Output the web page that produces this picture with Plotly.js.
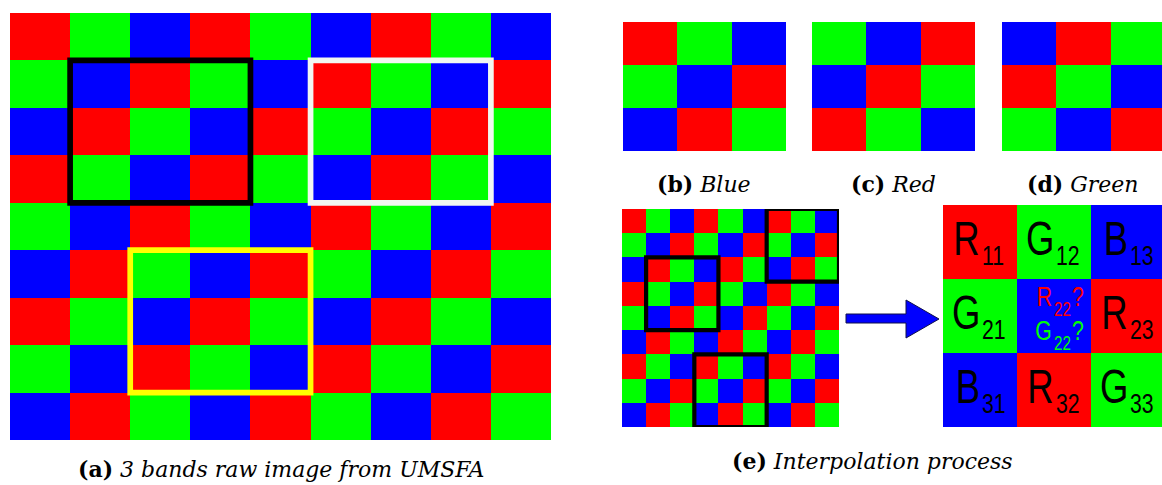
<!DOCTYPE html>
<html>
<head>
<meta charset="utf-8">
<script src="https://cdn.plot.ly/plotly-3.0.1.min.js"></script>
<style>
  html, body { margin: 0; padding: 0; background: #ffffff; }
  #fig { width: 1162px; height: 485px; }
</style>
</head>
<body>
<div id="fig"></div>
<script>
// ---- Filter layouts (one letter per sensor cell, row by row from the top) ----
const rawMosaic = [
  ['R','G','B','R','G','B','R','G','B'],
  ['G','B','R','G','B','R','G','B','R'],
  ['B','R','G','B','R','G','B','R','G'],
  ['R','G','B','R','G','B','R','G','B'],
  ['G','B','R','G','B','R','G','B','R'],
  ['B','R','G','B','R','G','B','R','G'],
  ['R','G','B','R','G','B','R','G','B'],
  ['G','B','R','G','B','R','G','B','R'],
  ['B','R','G','B','R','G','B','R','G']
];
const blueCentred  = [['R','G','B'], ['G','B','R'], ['B','R','G']];
const redCentred   = [['G','B','R'], ['B','R','G'], ['R','G','B']];
const greenCentred = [['B','R','G'], ['R','G','B'], ['G','B','R']];
const interpBlock  = [['R','G','B'], ['G','B','R'], ['B','R','G']];

// Cell labels of the interpolation block: band letter + pixel index
const labelLetters = [['R','G','B'], ['G','','R'], ['B','R','G']];
const labelIndices = [['11','12','13'], ['21','','23'], ['31','32','33']];
// Unknown values at the centre pixel
const unknownLetters = ['R', 'G'];
const unknownIndex = '22';
const unknownColors = ['#ff0000', '#00ff00'];

// 3x3 windows: [first column, first row, colour]
const rawWindows = [[1, 1, '#000000'], [5, 1, '#f2f7f2'], [2, 5, '#ffff00']];
const interpWindows = [[6, 0, '#000000'], [1, 2, '#000000'], [3, 6, '#000000']];

const captions = [
  '<b>(a)</b> <i>3 bands raw image from UMSFA</i>',
  '<b>(b)</b> <i>Blue</i>',
  '<b>(c)</b> <i>Red</i>',
  '<b>(d)</b> <i>Green</i>',
  '<b>(e)</b> <i>Interpolation process</i>'
];

// ---- Page geometry (pixels) ----
const W = 1162, H = 485;
const px = v => v / W;
const py = v => 1 - v / H;

const bandIndex = { R: 0, G: 1, B: 2 };
const bandScale = [
  [0, '#ff0000'], [1/3, '#ff0000'],
  [1/3, '#00ff00'], [2/3, '#00ff00'],
  [2/3, '#0000ff'], [1, '#0000ff']
];

// panel boxes: left, right, top, bottom (px)
const panels = [
  { key: '',  grid: rawMosaic,    x0: 10,  x1: 551,  y0: 13,  y1: 440 },
  { key: '2', grid: blueCentred,  x0: 623, x1: 786,  y0: 22,  y1: 151 },
  { key: '3', grid: redCentred,   x0: 812, x1: 975,  y0: 22,  y1: 151 },
  { key: '4', grid: greenCentred, x0: 1002, x1: 1165, y0: 22, y1: 151 },
  { key: '5', grid: rawMosaic,    x0: 622, x1: 839,  y0: 209, y1: 427 },
  { key: '6', grid: interpBlock,  x0: 943, x1: 1165, y0: 205, y1: 427 }
];

const traces = [];
const layout = {
  width: W, height: H,
  margin: { l: 0, r: 0, t: 0, b: 0 },
  paper_bgcolor: '#ffffff', plot_bgcolor: '#ffffff',
  showlegend: false,
  shapes: [], annotations: []
};

panels.forEach(p => {
  const n = p.grid[0].length, m = p.grid.length;
  const cw = (p.x1 - p.x0) / n;
  const right = Math.min(p.x1, W);
  const xEnd = -0.5 + (right - p.x0) / cw;
  traces.push({
    type: 'heatmap',
    z: p.grid.map(row => row.map(c => bandIndex[c])),
    zmin: 0, zmax: 2,
    colorscale: bandScale,
    showscale: false,
    hoverinfo: 'skip',
    xaxis: 'x' + p.key, yaxis: 'y' + p.key
  });
  layout['xaxis' + p.key] = {
    domain: [px(p.x0), px(right)], range: [-0.5, xEnd],
    visible: false, fixedrange: true, anchor: 'y' + p.key
  };
  layout['yaxis' + p.key] = {
    domain: [py(p.y1), py(p.y0)], range: [m - 0.5, -0.5],
    visible: false, fixedrange: true, anchor: 'x' + p.key
  };
});

// Selection windows
function windowShape(key, w, width) {
  return {
    type: 'rect', xref: 'x' + key, yref: 'y' + key,
    x0: w[0] - 0.5, x1: w[0] + 2.5, y0: w[1] - 0.5, y1: w[1] + 2.5,
    line: { color: w[2], width: width }, fillcolor: 'rgba(0,0,0,0)'
  };
}
rawWindows.forEach(w => layout.shapes.push(windowShape('', w, 5.7)));
interpWindows.forEach(w => layout.shapes.push(windowShape('5', w, 4.2)));

// Block arrow between the mosaic and the interpolation block
const arrowPts = [[846, 314], [906, 314], [906, 300], [939, 319], [906, 338], [906, 323], [846, 323]];
layout.shapes.push({
  type: 'path', xref: 'paper', yref: 'paper',
  path: 'M ' + arrowPts.map(q => px(q[0]) + ',' + py(q[1])).join(' L ') + ' Z',
  fillcolor: '#0000ff', line: { color: '#10104a', width: 1 }
});

// ---- Labels inside the interpolation block ----
// Each label is a big letter (right-anchored) followed by a small index (left-anchored);
// the lettering is condensed afterwards, keeping the anchored edge fixed.
const labelFont = "'Liberation Sans', Arial, sans-serif";
const condensed = {};   // annotation index -> transform origin
function addLabelPiece(text, x, y, anchor, size, color) {
  condensed[layout.annotations.length] = anchor === 'right' ? 'right center' : 'left center';
  layout.annotations.push({
    xref: 'x6', yref: 'y6', x: x, y: y, showarrow: false,
    xanchor: anchor, yanchor: 'middle', borderpad: 0,
    text: text, font: { family: labelFont, size: size, color: color }
  });
}
labelLetters.forEach((row, r) => row.forEach((letter, c) => {
  if (!letter) return;
  addLabelPiece(letter, c + 0.02, r - 0.05, 'right', 48, '#000000');
  addLabelPiece(labelIndices[r][c], c + 0.02, r + 0.18, 'left', 28, '#000000');
}));
unknownLetters.forEach((letter, i) => {
  const dy = i === 0 ? -0.265 : 0.19;
  addLabelPiece(letter, 0.98, 1 + dy, 'right', 28, unknownColors[i]);
  addLabelPiece(unknownIndex, 0.98, 1 + dy + 0.173, 'left', 20, unknownColors[i]);
  addLabelPiece('?', 1.225, 1 + dy, 'left', 28, unknownColors[i]);
});

// Captions
const capFont = { family: "'DejaVu Serif', 'Liberation Serif', serif", size: 22, color: '#000000' };
const capPos = [[281, 469], [704, 184], [893, 184], [1083, 184], [872, 461]];
captions.forEach((t, i) => {
  layout.annotations.push({
    xref: 'paper', yref: 'paper', x: px(capPos[i][0]), y: py(capPos[i][1]),
    xanchor: 'center', yanchor: 'middle', showarrow: false,
    text: t, font: capFont
  });
});

Plotly.newPlot('fig', traces, layout, { staticPlot: true, displayModeBar: false }).then(gd => {
  Object.keys(condensed).forEach(i => {
    const t = gd.querySelector('.annotation[data-index="' + i + '"] .annotation-text');
    if (!t) return;
    t.style.transformBox = 'fill-box';
    t.style.transformOrigin = condensed[i];
    t.style.transform = 'scaleX(0.76)';
  });
  // drop empty placeholder text nodes left by the hidden axes
  gd.querySelectorAll('text').forEach(t => {
    if (!t.textContent.trim()) t.remove();
  });
});
</script>
</body>
</html>
